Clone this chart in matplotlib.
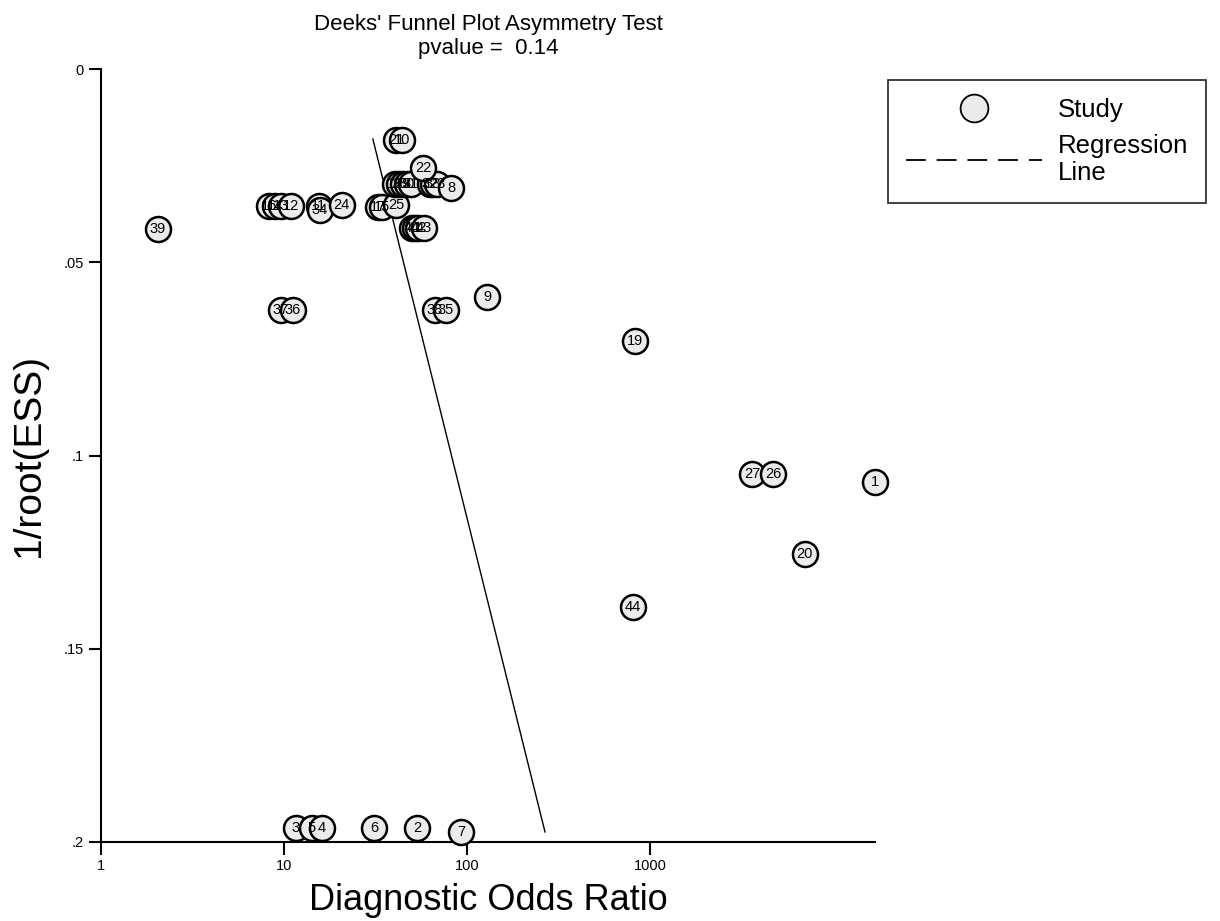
import matplotlib
matplotlib.use("Agg")
import matplotlib.pyplot as plt
from matplotlib.lines import Line2D

plt.rcParams['font.family'] = ['Liberation Sans', 'DejaVu Sans']

# Study data: id, diagnostic odds ratio, 1/root(ESS)
study_ids = [16, 14, 13, 12, 39, 11, 34, 24, 17, 15, 25,
             18, 28, 29, 30, 31, 32, 33, 23, 8, 21, 10, 22,
             40, 41, 42, 43, 37, 36, 38, 35, 9, 19, 44,
             27, 26, 1, 20, 3, 5, 4, 6, 2, 7]
dor = [8.28, 8.93, 9.6, 10.9, 2.05, 15.5, 15.7, 20.7, 32.6, 34.3, 40.9,
       40.4, 42.5, 44.6, 47.0, 49.4, 62.8, 65.2, 68.6, 81.8, 40.9, 44.1, 57.5,
       50.0, 52.0, 54.2, 58.2, 9.63, 11.2, 66.8, 76.8, 128.6, 828, 807,
       3610, 4700, 16980, 7030, 11.6, 14.2, 16.1, 31.0, 53.3, 92.7]
inv_ess = [0.0355, 0.0355, 0.0355, 0.0355, 0.0414, 0.0354, 0.0365, 0.0352, 0.0357, 0.0357, 0.0352,
           0.0298, 0.0298, 0.0298, 0.0298, 0.0298, 0.0298, 0.0298, 0.0298, 0.0308, 0.0184, 0.0184, 0.0256,
           0.0411, 0.0411, 0.0411, 0.0411, 0.0624, 0.0624, 0.0624, 0.0624, 0.0590, 0.0704, 0.1392,
           0.1048, 0.1048, 0.1069, 0.1255, 0.1964, 0.1964, 0.1964, 0.1964, 0.1964, 0.1974]

# regression line end points
reg_x = [30.6, 267]
reg_y = [0.0181, 0.1974]

x_ticks = [1, 10, 100, 1000]
x_tick_labels = ["1", "10", "100", "1000"]
y_ticks = [0, 0.05, 0.1, 0.15, 0.2]
y_tick_labels = ["0", ".05", ".1", ".15", ".2"]

fig = plt.figure(figsize=(12.2, 9.21), dpi=100)
ax = fig.add_axes([0.0828, 0.0858, 0.6344, 0.8392])

ax.plot(reg_x, reg_y, color="black", lw=1.0, zorder=2)

# markers first, labels on top of all markers
ax.plot(dor, inv_ess, "o", ls="none", ms=18, mfc="#ebebeb", mec="black",
        mew=1.8, zorder=3, clip_on=False)
for sid, x, y in zip(study_ids, dor, inv_ess):
    ax.text(x, y, str(sid), ha="center", va="center", fontsize=10.5,
            zorder=4, clip_on=False)

ax.set_xscale("log")
ax.set_xlim(1, 10 ** 4.23)
ax.set_ylim(0.2, 0)
ax.set_xticks(x_ticks)
ax.set_xticklabels(x_tick_labels)
ax.minorticks_off()
ax.set_yticks(y_ticks)
ax.set_yticklabels(y_tick_labels)
ax.tick_params(axis="both", length=9, width=1.5, labelsize=10.5, direction="out")

for side in ["top", "right"]:
    ax.spines[side].set_visible(False)
for side in ["left", "bottom"]:
    ax.spines[side].set_linewidth(1.5)

ax.set_xlabel("Diagnostic Odds Ratio", fontsize=26, labelpad=7)
ax.set_ylabel("1/root(ESS)", fontsize=28, labelpad=12)
ax.set_title("Deeks' Funnel Plot Asymmetry Test\npvalue =  0.14", fontsize=16,
             pad=11, linespacing=1.15)

handles = [
    Line2D([], [], ls="none", marker="o", ms=20, mfc="#ebebeb", mec="black", mew=1.3),
    Line2D([], [], color="black", ls=(0, (11, 6)), lw=1.3),
]
leg = fig.legend(handles, ["Study", "Regression\nLine"], loc="upper left",
                 bbox_to_anchor=(0.728, 0.913), fontsize=18.5, frameon=True,
                 fancybox=False, edgecolor="black", handlelength=5.3,
                 borderpad=0.7, labelspacing=0.45, handletextpad=0.6,
                 borderaxespad=0.0)
leg.get_frame().set_linewidth(1.3)

fig.savefig("out.png", dpi=100)
